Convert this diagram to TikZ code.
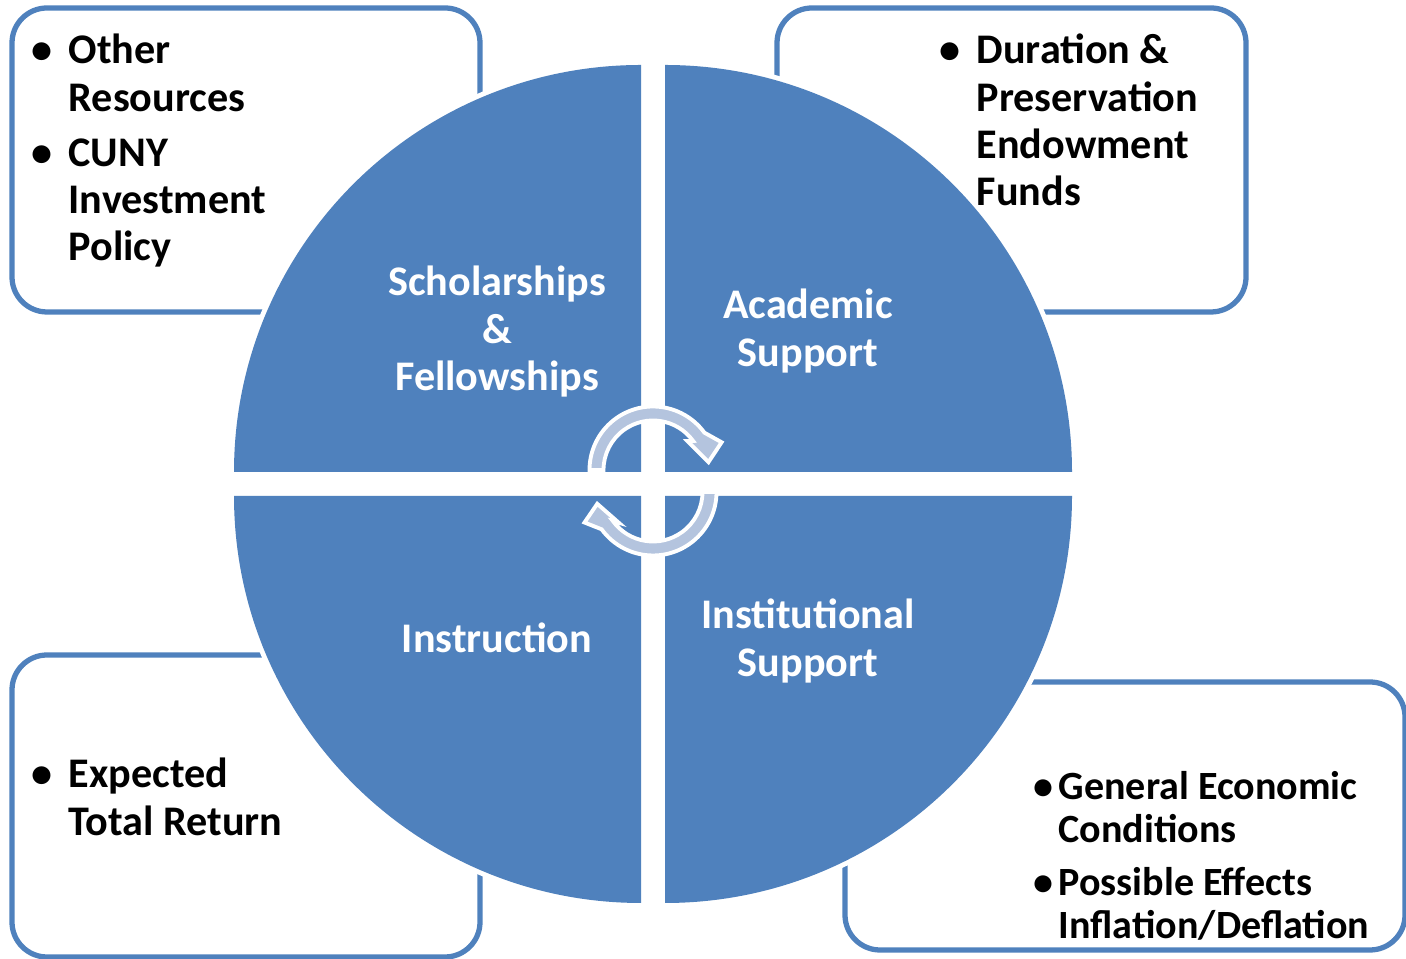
\documentclass[tikz,border=0pt]{standalone}
\usepackage{fontspec}
\setmainfont{Carlito}
\usepackage{xcolor}
\usepackage{tikz}

\definecolor{quadblue}{HTML}{4F81BD}
\definecolor{arrowblue}{HTML}{B4C4DE}
\newcommand{\bul}[1][0.16cm]{\llap{\textbullet\hspace{#1}}}

\begin{document}
\begin{tikzpicture}[
        box/.style={draw=quadblue, line width=1.5pt, rounded corners=0.35cm},
        quad/.style={fill=quadblue, preaction={draw=white, line width=2.8pt}},
        cyc/.style={fill=arrowblue, draw=white, line width=1.1pt},
        boxtext/.style={inner sep=0, font=\fontsize{12}{13.4}\selectfont\bfseries},
        smalltext/.style={inner sep=0, font=\fontsize{11.4}{12.1}\selectfont\bfseries},
        quadtext/.style={inner sep=0, text=white, font=\fontsize{12}{13.4}\selectfont\bfseries}]
        \useasboundingbox (0,0) rectangle (14.06,9.59);

        %% Boxes
        \draw[box] (0.12,6.47) rectangle (4.80,9.51);
        \draw[box] (7.77,6.47) rectangle (12.46,9.51);
        \draw[box] (0.12,0.02) rectangle (4.80,3.04);
        \draw[box] (8.45,0.09) rectangle (14.05,2.77);

        % Quadrants
        \path[quad] (6.41,4.87) -- (2.34,4.87) arc[start angle=180, end angle=90, radius=4.07] -- cycle;
        \path[quad] (6.65,4.87) -- (6.65,8.94) arc[start angle=90, end angle=0, radius=4.07] -- cycle;
        \path[quad] (6.41,4.63) -- (2.34,4.63) arc[start angle=180, end angle=270, radius=4.07] -- cycle;
        \path[quad] (6.65,4.63) -- (10.72,4.63) arc[start angle=0, end angle=-90, radius=4.07] -- cycle;

        % Arrows
        \begin{scope}[shift={(6.53,4.89)}]
                \draw[cyc] (180:0.635) arc[start angle=180, end angle=36, radius=0.635]
                        -- (22:0.74) -- (8:0.56) -- (40:0.45) -- (36:0.495)
                        arc[start angle=36, end angle=180, radius=0.495] -- cycle;
        \end{scope}
        \begin{scope}[shift={(6.53,4.67)}]
                \draw[cyc] (0:0.635) arc[start angle=0, end angle=-144, radius=0.635]
                        -- (-156:0.75) -- (-168:0.57) -- (-138:0.46) -- (-144:0.495)
                        arc[start angle=-144, end angle=0, radius=0.495] -- cycle;
        \end{scope}

        % Titles
        \node[quadtext, anchor=base] (scholar) at (4.97,6.63) {\begin{tabular}[t]{@{}c@{}}Scholarships\\ \&\\ Fellowships\end{tabular}};
        \node[quadtext, anchor=base] (academic) at (8.08,6.40) {\begin{tabular}[t]{@{}c@{}}Academic\\ Support\end{tabular}};
        \node[quadtext, anchor=base] (instruct) at (4.97,3.06) {Instruction};
        \node[quadtext, anchor=base] (institut) at (8.08,3.30) {\begin{tabular}[t]{@{}c@{}}Institutional\\ Support\end{tabular}};

        % Bullet lists
        \node[boxtext, anchor=base west] (resources) at (0.68,8.95) {\begin{tabular}[t]{@{}l@{}}\bul Other\\ Resources\\[2.3pt] \bul CUNY\\ Investment\\ Policy\end{tabular}};
        \node[boxtext, anchor=base west] (duration) at (9.76,8.95) {\begin{tabular}[t]{@{}l@{}}\bul Duration \&\\ Preservation\\ Endowment\\ Funds\end{tabular}};
        \node[boxtext, anchor=base west] (return) at (0.68,1.71) {\begin{tabular}[t]{@{}l@{}}\bul Expected\\ Total Return\end{tabular}};
        \node[smalltext, anchor=base west] (economy) at (10.58,1.59) {\begin{tabular}[t]{@{}l@{}}\bul[0.05cm]General Economic\\ Conditions\\[3.1pt] \bul[0.05cm]Possible Effects\\ Inflation/Deflation\end{tabular}};
\end{tikzpicture}
\end{document}
